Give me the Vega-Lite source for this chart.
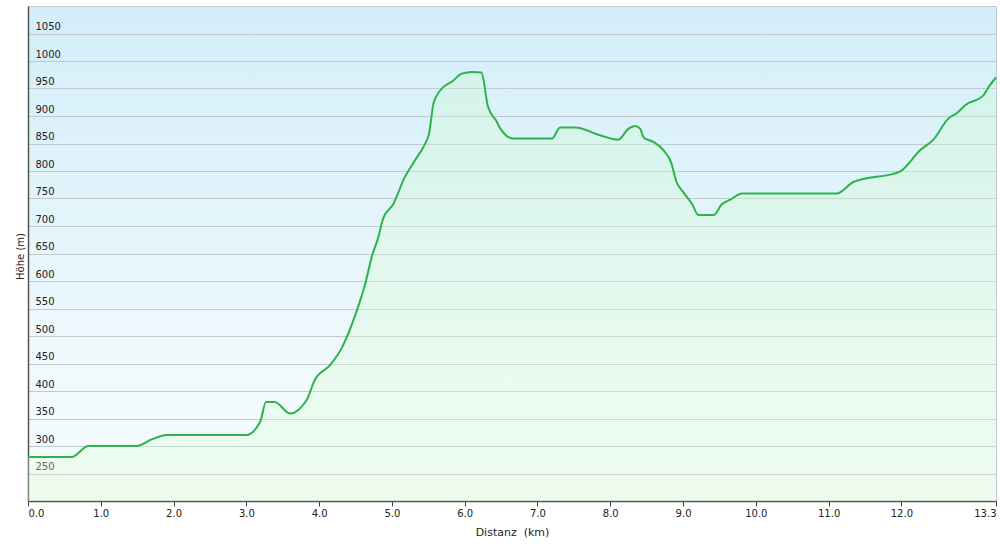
{
  "$schema": "https://vega.github.io/schema/vega-lite/v6.json",
  "width": 968,
  "height": 495,
  "autosize": {"type": "none"},
  "padding": {"left": 28, "top": 6, "right": 4, "bottom": 43},
  "background": "#ffffff",
  "config": {
    "font": "DejaVu Sans",
    "view": {
      "stroke": "#c4c9cc",
      "strokeWidth": 1,
      "fill": {
        "gradient": "linear",
        "x1": 0, "y1": 0, "x2": 0, "y2": 1,
        "stops": [
          {"offset": 0, "color": "#d2eefa"},
          {"offset": 0.45, "color": "#e4f5fb"},
          {"offset": 0.8, "color": "#f3fafe"},
          {"offset": 1, "color": "#f5fcfc"}
        ]
      }
    }
  },
  "data": {
    "values": [
      {"km": 0, "h": 280}, {"km": 0.6, "h": 280}, {"km": 0.83, "h": 300}, {"km": 1.49, "h": 300},
      {"km": 1.7, "h": 312}, {"km": 1.91, "h": 320}, {"km": 3.0, "h": 320}, {"km": 3.19, "h": 344},
      {"km": 3.27, "h": 380}, {"km": 3.39, "h": 380}, {"km": 3.6, "h": 359}, {"km": 3.83, "h": 384},
      {"km": 3.94, "h": 420}, {"km": 4.15, "h": 447}, {"km": 4.31, "h": 478}, {"km": 4.52, "h": 547},
      {"km": 4.63, "h": 593}, {"km": 4.73, "h": 647}, {"km": 4.81, "h": 678}, {"km": 4.88, "h": 714},
      {"km": 5.02, "h": 740}, {"km": 5.17, "h": 787}, {"km": 5.32, "h": 820}, {"km": 5.45, "h": 848},
      {"km": 5.51, "h": 868}, {"km": 5.57, "h": 922}, {"km": 5.62, "h": 938}, {"km": 5.71, "h": 953},
      {"km": 5.82, "h": 962}, {"km": 5.96, "h": 977}, {"km": 6.1, "h": 980}, {"km": 6.23, "h": 979},
      {"km": 6.32, "h": 917}, {"km": 6.44, "h": 890}, {"km": 6.49, "h": 877}, {"km": 6.67, "h": 859},
      {"km": 7.2, "h": 859}, {"km": 7.31, "h": 879}, {"km": 7.52, "h": 879}, {"km": 7.86, "h": 865},
      {"km": 8.11, "h": 857}, {"km": 8.25, "h": 877}, {"km": 8.34, "h": 882}, {"km": 8.41, "h": 877},
      {"km": 8.46, "h": 861}, {"km": 8.59, "h": 853}, {"km": 8.73, "h": 838}, {"km": 8.84, "h": 814},
      {"km": 8.91, "h": 780}, {"km": 9.0, "h": 762}, {"km": 9.12, "h": 741}, {"km": 9.21, "h": 720},
      {"km": 9.42, "h": 720}, {"km": 9.53, "h": 739}, {"km": 9.65, "h": 748}, {"km": 9.81, "h": 759},
      {"km": 11.11, "h": 759}, {"km": 11.34, "h": 780}, {"km": 11.98, "h": 799}, {"km": 12.26, "h": 838},
      {"km": 12.44, "h": 857}, {"km": 12.65, "h": 896}, {"km": 12.76, "h": 905}, {"km": 12.88, "h": 920},
      {"km": 13.13, "h": 938}, {"km": 13.2, "h": 953}, {"km": 13.3, "h": 970}
    ]
  },
  "encoding": {
    "x": {
      "field": "km",
      "type": "quantitative",
      "scale": {"domain": [0, 13.3], "nice": false, "zero": false},
      "axis": {
        "title": "Distanz\u00a0 (km)",
        "values": [0, 1, 2, 3, 4, 5, 6, 7, 8, 9, 10, 11, 12, 13.3],
        "format": ".1f",
        "grid": false,
        "labelFlush": true,
        "labelFont": "DejaVu Sans",
        "labelFontSize": 10,
        "labelColor": "#222222",
        "labelPadding": 2,
        "tickSize": 5,
        "tickColor": "#444444",
        "domainColor": "#555555",
        "domainWidth": 1.5,
        "titleFont": "DejaVu Sans",
        "titleFontSize": 11,
        "titleFontWeight": "normal",
        "titleColor": "#222222",
        "titlePadding": 8
      }
    },
    "y": {
      "field": "h",
      "type": "quantitative",
      "scale": {"domain": [200, 1100], "nice": false, "zero": false},
      "axis": {
        "title": "Höhe (m)",
        "values": [250, 300, 350, 400, 450, 500, 550, 600, 650, 700, 750, 800, 850, 900, 950, 1000, 1050],
        "format": "d",
        "grid": true,
        "gridColor": "#c3cacd",
        "gridWidth": 1,
        "ticks": false,
        "tickSize": 0,
        "labelAlign": "left",
        "labelBaseline": "alphabetic",
        "labelPadding": -7,
        "labelOffset": -4,
        "labelFont": "DejaVu Sans",
        "labelFontSize": 10,
        "labelColor": "#222222",
        "domainColor": "#555555",
        "domainWidth": 1.5,
        "titleFont": "DejaVu Sans",
        "titleFontSize": 10,
        "titleFontWeight": "normal",
        "titleColor": "#222222",
        "titleBaseline": "alphabetic",
        "titleX": -5,
        "titleY": 250,
        "titleAngle": -90,
        "titleAlign": "center"
      }
    }
  },
  "layer": [
    {
      "mark": {
        "type": "area",
        "interpolate": "monotone",
        "color": {
          "gradient": "linear",
          "x1": 0, "y1": 0, "x2": 0, "y2": 1,
          "stops": [
            {"offset": 0, "color": "rgba(205,250,205,0.32)"},
            {"offset": 1, "color": "rgba(222,252,210,0.32)"}
          ]
        }
      },
      "encoding": {"y2": {"datum": 200}}
    },
    {
      "mark": {"type": "line", "interpolate": "monotone", "color": "#2db34b", "strokeWidth": 2}
    }
  ]
}
